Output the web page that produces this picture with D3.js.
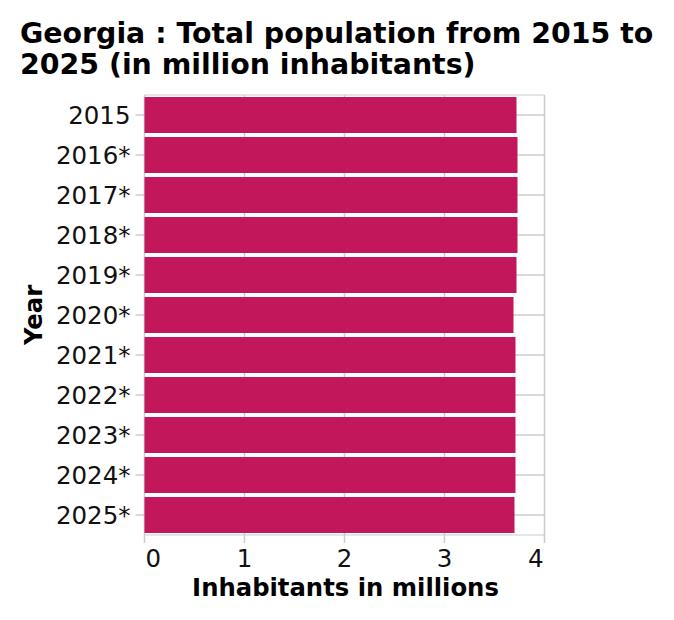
<!DOCTYPE html>
<html>
<head>
<meta charset="utf-8">
<script src="https://cdn.jsdelivr.net/npm/d3@7"></script>
<style>
  html, body { margin: 0; padding: 0; background: #fff; }
  svg { display: block; }
</style>
</head>
<body>
<svg id="chart" width="674" height="620"></svg>
<script>
const years = ["2015", "2016*", "2017*", "2018*", "2019*", "2020*", "2021*", "2022*", "2023*", "2024*", "2025*"];
const population = [3.72, 3.73, 3.73, 3.73, 3.72, 3.69, 3.71, 3.71, 3.71, 3.71, 3.70];
const xTicks = [0, 1, 2, 3, 4];
const titleLines = ["Georgia : Total population from 2015 to", "2025 (in million inhabitants)"];
const xLabel = "Inhabitants in millions";
const yLabel = "Year";

const FONT = '"DejaVu Sans"';
const svg = d3.select("#chart");
const pLeft = 144.5, pRight = 544.5, pTop = 95, pBottom = 535;

const x = d3.scaleLinear().domain([0, 4]).range([pLeft, pRight]);
const y = d3.scaleBand().domain(years).range([pTop, pBottom]).paddingInner(0.1).paddingOuter(0.05);

// plot frame (top/bottom lines)
svg.append("line").attr("x1", pLeft).attr("x2", pRight).attr("y1", pTop).attr("y2", pTop)
  .attr("stroke", "#dddddd").attr("stroke-width", 1.5);
svg.append("line").attr("x1", pLeft).attr("x2", pRight).attr("y1", pBottom).attr("y2", pBottom)
  .attr("stroke", "#dddddd").attr("stroke-width", 1.5);

// vertical grid + x ticks
svg.append("g").selectAll("line").data(xTicks).join("line")
  .attr("x1", d => x(d)).attr("x2", d => x(d))
  .attr("y1", pTop).attr("y2", pBottom + 8)
  .attr("stroke", "#cccccc").attr("stroke-width", 1.5);

// horizontal grid + y ticks
svg.append("g").selectAll("line").data(years).join("line")
  .attr("x1", pLeft - 9).attr("x2", pRight)
  .attr("y1", d => y(d) + y.bandwidth() / 2).attr("y2", d => y(d) + y.bandwidth() / 2)
  .attr("stroke", "#cccccc").attr("stroke-width", 1.5);

// bars
svg.append("g").selectAll("rect").data(years).join("rect")
  .attr("x", x(0))
  .attr("y", d => y(d))
  .attr("width", (d, i) => x(population[i]) - x(0))
  .attr("height", y.bandwidth())
  .attr("fill", "#c2185b");

// y tick labels
svg.append("g").selectAll("text").data(years).join("text")
  .attr("x", pLeft - 14)
  .attr("y", d => y(d) + y.bandwidth() / 2)
  .attr("dy", "0.36em")
  .attr("text-anchor", "end")
  .style("font-family", FONT)
  .attr("font-size", 24.5)
  .attr("fill", "#111")
  .text(d => d);

// x tick labels
svg.append("g").selectAll("text").data(xTicks).join("text")
  .attr("x", (d, i) => i === 0 ? x(d) + 1 : (i === xTicks.length - 1 ? x(d) - 1 : x(d)))
  .attr("y", 567)
  .attr("text-anchor", (d, i) => i === 0 ? "start" : (i === xTicks.length - 1 ? "end" : "middle"))
  .style("font-family", FONT)
  .attr("font-size", 24.5)
  .attr("fill", "#111")
  .text(d => d);

// axis titles
svg.append("text")
  .attr("x", (pLeft + pRight) / 2 + 1).attr("y", 596)
  .attr("text-anchor", "middle")
  .style("font-family", FONT)
  .attr("font-size", 24.3).attr("font-weight", "bold")
  .text(xLabel);

svg.append("text")
  .attr("transform", "translate(42,315) rotate(-90)")
  .attr("text-anchor", "middle")
  .style("font-family", FONT)
  .attr("font-size", 24.3).attr("font-weight", "bold")
  .text(yLabel);

// title
svg.append("g").selectAll("text").data(titleLines).join("text")
  .attr("x", 20)
  .attr("y", (d, i) => 43 + i * 31)
  .style("font-family", FONT)
  .attr("font-size", 28.4).attr("font-weight", "bold")
  .text(d => d);
</script>
</body>
</html>
